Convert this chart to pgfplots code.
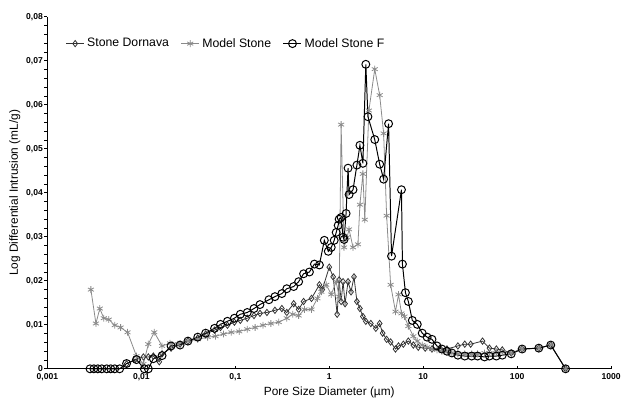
\documentclass[border=0pt]{standalone}
\usepackage{pgfplots}
\pgfplotsset{compat=1.18}
\usepackage{fontspec}
\setmainfont{Liberation Sans}
\definecolor{stargray}{HTML}{8A8A8A}
\definecolor{diadark}{HTML}{333333}
\begin{document}
\begin{tikzpicture}
\begin{axis}[
  scale only axis,
  width=427.5pt, height=267pt,
  xmode=log, log basis x=10,
  xmin=0.001, xmax=1000, ymin=0, ymax=0.08,
  scaled y ticks=false,
  axis x line*=bottom, axis y line*=left,
  axis line style={-, black, line width=0.6pt},
  xtick={0.001,0.01,0.1,1,10,100,1000},
  xticklabels={{0,001},{0,01},{0,1},1,10,100,1000},
  ytick={0,0.01,0.02,0.03,0.04,0.05,0.06,0.07,0.08},
  yticklabels={0,{0,01},{0,02},{0,03},{0,04},{0,05},{0,06},{0,07},{0,08}},
  minor y tick num=4,
  tick align=inside,
  major tick length=2.5pt, minor tick length=2pt,
  y tick style={xshift=-2.5pt},
  tick style={black, line width=0.5pt},
  tick label style={font=\fontsize{6.5}{8}\selectfont\bfseries},
  xlabel={Pore Size Diameter (µm)},
  ylabel={Log Differential Intrusion (mL/g)},
  label style={font=\fontsize{9}{11}\selectfont},
  xlabel style={at={(axis description cs:0.5,-0.066)}, anchor=center},
  ylabel style={at={(axis description cs:-0.058,0.5)}, anchor=center, rotate=0},
  legend style={at={(axis description cs:0.025,0.955)}, anchor=north west, draw=none, fill=none,
    legend columns=3, font=\fontsize{9.3}{11}\selectfont,
    /tikz/every even column/.append style={column sep=7pt}},
  legend image code/.code={\draw[mark repeat=2,mark phase=2] plot coordinates {(0cm,0cm)(0.24cm,0cm)(0.48cm,0cm)};},
  clip=false,
]
% Stone Dornava
\addplot[diadark, line width=0.6pt, mark=diamond, mark size=2.4pt, mark options={solid, fill=none, draw=diadark}] coordinates {
(0.00695,0.0011)(0.00865,0.0022)(0.0105,0.0027)(0.01185,0.0027)(0.0134,0.0029)(0.0155,0.0016)(0.0166,0.0034)
(0.0207,0.0047)(0.0258,0.0056)(0.0313,0.0063)(0.0398,0.0070)(0.0483,0.0079)(0.0601,0.0088)(0.0695,0.0094)
(0.0824,0.0099)(0.0977,0.0106)(0.113,0.0110)(0.134,0.0115)(0.158,0.0121)(0.183,0.0126)(0.217,0.0128)
(0.264,0.0133)(0.313,0.0137)(0.353,0.0128)(0.418,0.0148)(0.472,0.0135)(0.533,0.0153)(0.647,0.0160)
(0.785,0.0191)(0.843,0.0180)(1.0,0.0231)(1.10,0.0209)(1.214,0.0124)(1.274,0.0202)(1.337,0.0153)
(1.403,0.0198)(1.473,0.0148)(1.585,0.0198)(1.705,0.0175)(1.833,0.0209)(1.97,0.0153)(2.12,0.0137)
(2.28,0.0119)(2.45,0.0108)(2.77,0.0103)(3.13,0.0092)(3.44,0.0103)(3.70,0.0081)(4.08,0.0067)(4.50,0.0061)
(5.07,0.0045)(5.46,0.0052)(6.15,0.0056)(6.95,0.0063)(7.85,0.0054)(8.86,0.0049)(10.5,0.0047)(12.4,0.0045)
(15.1,0.0047)(17.9,0.0045)(23.4,0.0052)(27.7,0.0056)(32.0,0.0056)(42.8,0.0063)(50.7,0.0047)(60.1,0.0045)
(69.5,0.0043)(86.5,0.0036)(113,0.0045)(170,0.0047)(228,0.0054)(328,0)
};
\addlegendentry{Stone Dornava}
% Model Stone
\addplot[stargray, line width=0.6pt, mark=asterisk, mark size=2.6pt, mark options={solid, draw=stargray}] coordinates {
(0.0029,0.0180)(0.00328,0.0103)(0.00361,0.0137)(0.00398,0.0115)(0.0045,0.0112)(0.0052,0.0099)(0.00601,0.0094)
(0.00712,0.0083)(0.00886,0.0029)(0.0105,0.0011)(0.01185,0.0056)(0.0137,0.0083)(0.0166,0.0052)(0.0202,0.0058)
(0.0245,0.0056)(0.0313,0.0063)(0.0398,0.0067)(0.0507,0.0072)(0.0615,0.0074)(0.0748,0.0079)(0.0907,0.0083)
(0.110,0.0085)(0.134,0.0090)(0.1625,0.0094)(0.197,0.0099)(0.239,0.0103)(0.29,0.0106)(0.353,0.0115)
(0.408,0.0124)(0.472,0.0121)(0.546,0.0135)(0.647,0.0135)(0.748,0.0160)(0.824,0.0175)(0.929,0.0191)
(1.05,0.0169)(1.185,0.0198)(1.274,0.0164)(1.337,0.0555)(1.438,0.0276)(1.547,0.0299)(1.625,0.0317)
(1.79,0.0276)(2.02,0.0283)(2.12,0.0373)(2.28,0.0443)(2.39,0.0339)(2.64,0.0587)(3.05,0.0681)(3.44,0.0622)
(3.79,0.0535)(4.08,0.0348)(4.50,0.0191)(5.07,0.0130)(5.46,0.0169)(5.87,0.0126)(6.31,0.0119)(6.95,0.0097)
(7.85,0.0074)(8.65,0.0063)(9.76,0.0054)(11.0,0.0049)(12.4,0.0045)(14.0,0.0043)(15.8,0.0040)(17.9,0.0038)
(20.2,0.0036)(23.4,0.0034)(27.7,0.0034)(32.8,0.0034)(37.9,0.0034)(45.0,0.0036)(50.7,0.0036)(60.1,0.0036)
(69.5,0.0038)(86.5,0.0036)(113,0.0045)(170,0.0047)(228,0.0054)(328,0)
};
\addlegendentry{Model Stone}
% Model Stone F
\addplot[black, line width=0.75pt, mark=o, mark size=3pt, mark options={solid, draw=black}] coordinates {
(0.00284,0)(0.00312,0)(0.00344,0)(0.00379,0)(0.00428,0)(0.00472,0)(0.0052,0)(0.00587,0)
(0.00695,0.0012)(0.00886,0.0021)(0.01075,0)(0.01185,0)(0.0134,0.0023)(0.0166,0.0030)(0.0207,0.0052)
(0.0258,0.0054)(0.0313,0.0063)(0.0398,0.0072)(0.0483,0.0081)(0.0601,0.0092)(0.0695,0.0101)(0.0824,0.0108)
(0.0977,0.0115)(0.113,0.0124)(0.134,0.0128)(0.158,0.0137)(0.183,0.0146)(0.228,0.0157)(0.264,0.0164)
(0.313,0.0171)(0.353,0.0182)(0.418,0.0187)(0.472,0.0198)(0.533,0.0216)(0.615,0.0220)(0.695,0.0238)
(0.785,0.0236)(0.886,0.0292)(0.976,0.0267)(1.05,0.0276)(1.129,0.0292)(1.185,0.0310)(1.244,0.0326)
(1.274,0.0340)(1.337,0.0344)(1.403,0.0299)(1.438,0.0294)(1.51,0.0353)(1.585,0.0456)(1.625,0.0396)
(1.79,0.0407)(1.97,0.0463)(2.12,0.0508)(2.28,0.0467)(2.45,0.0692)(2.58,0.0573)(3.05,0.0521)(3.44,0.0465)
(3.79,0.0431)(4.28,0.0557)(4.60,0.0256)(5.87,0.0407)(6.01,0.0238)(6.47,0.0173)(6.95,0.0153)(7.66,0.0110)
(8.65,0.0101)(9.76,0.0081)(11.0,0.0072)(12.4,0.0067)(14.0,0.0052)(15.8,0.0045)(17.9,0.0040)(20.2,0.0036)
(23.4,0.0031)(27.7,0.0029)(32.8,0.0029)(37.9,0.0029)(45.0,0.0027)(50.7,0.0029)(60.1,0.0029)(69.5,0.0031)
(86.5,0.0034)(113,0.0045)(170,0.0047)(228,0.0054)(328,0)
};
\addlegendentry{Model Stone F}
\end{axis}
\path[use as bounding box] ([xshift=-36pt,yshift=-24pt]current axis.south west) rectangle ([xshift=5.25pt,yshift=12.75pt]current axis.north east);
\end{tikzpicture}
\end{document}
